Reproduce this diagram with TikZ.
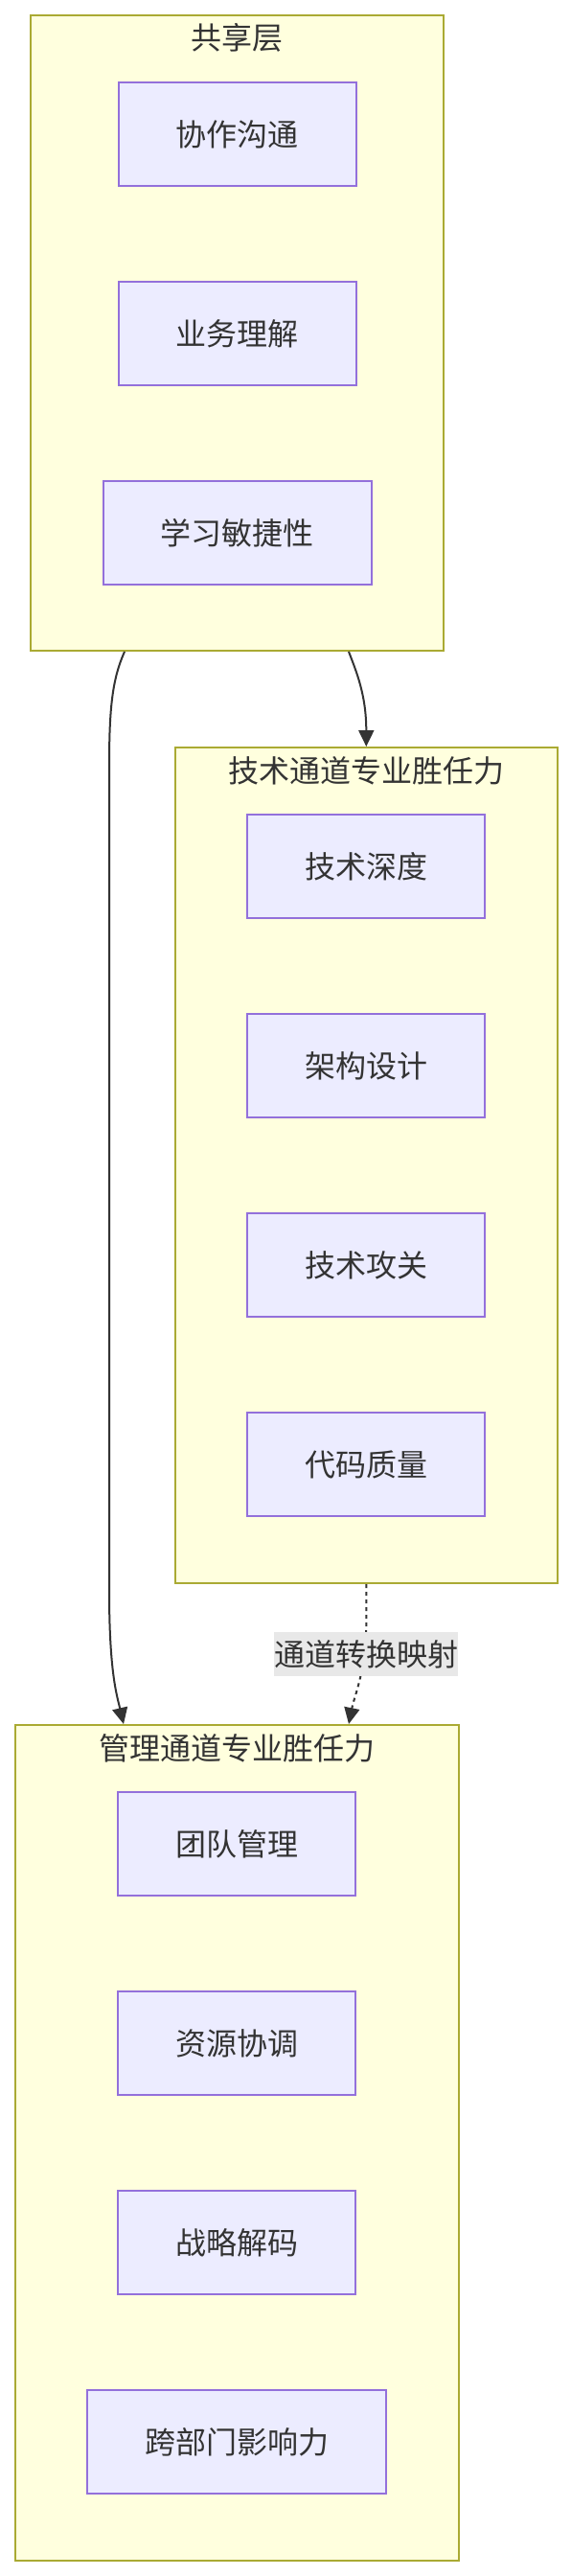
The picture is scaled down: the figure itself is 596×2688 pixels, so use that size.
\documentclass[tikz,border=0pt]{standalone}
\usepackage{fontspec}
\newfontfamily\cjk{Noto Sans CJK SC}
\usepackage{tikz}
\usetikzlibrary{arrows.meta, positioning, calc}

\definecolor{groupfill}{HTML}{FFFFDE}
\definecolor{groupline}{HTML}{AAAA33}
\definecolor{boxfill}{HTML}{ECECFF}
\definecolor{boxline}{HTML}{9370DB}
\definecolor{ink}{HTML}{333333}
\definecolor{labelfill}{HTML}{E8E8E8}

\begin{document}
\begin{tikzpicture}[x=1pt, y=-1pt, node distance=208pt,
        every node/.style={font=\cjk\fontsize{32}{38}\selectfont, text=ink, text height=26.5pt, text depth=2.3pt},
        group/.style={draw=groupline, fill=groupfill, line width=2pt, inner sep=0pt},
        skill/.style={draw=boxline, fill=boxfill, line width=2pt, inner xsep=60pt, inner ysep=0pt, minimum height=108pt},
        flow/.style={draw=ink, line width=2pt, -{Triangle[length=17pt, width=16pt]}}]
        \useasboundingbox (0,0) rectangle (596,2688);

        % subgraphs
        \node[group, minimum width=431pt, minimum height=663.4pt] (shared) at (247.5,347.3) {};
        \node[group, minimum width=399.3pt, minimum height=872pt] (tech) at (382.3,1216) {};
        \node[group, minimum width=463pt, minimum height=872pt] (mgmt) at (247,2236) {};

        \node (sharedtitle) at ($(shared.north)+(0,25)$) {共享层};
        \node (techtitle) at ($(tech.north)+(0,25)$) {技术通道专业胜任力};
        \node (mgmttitle) at ($(mgmt.north)+(0,25)$) {管理通道专业胜任力};

        \node[skill] (comm) at (247.5,140) {协作沟通};
        \node[skill] (biz) [below of=comm] {业务理解};
        \node[skill] (learn) [below of=biz] {学习敏捷性};

        \node[skill] (depth) at (382,904) {技术深度};
        \node[skill] (arch) [below of=depth] {架构设计};
        \node[skill] (tackle) [below of=arch] {技术攻关};
        \node[skill] (code) [below of=tackle] {代码质量};

        \node[skill] (team) at (247,1924) {团队管理};
        \node[skill] (res) [below of=team] {资源协调};
        \node[skill] (strat) [below of=res] {战略解码};
        \node[skill] (cross) [below of=strat] {跨部门影响力};

        % links between subgraphs
        \draw[flow] ($(shared.south)+(116.5,0)$) .. controls +(8,21) and +(0,-54) .. (tech.north);
        \draw[flow] ($(shared.south)+(-117.5,0)$) .. controls +(-13,29) and +(0,-60) .. (114,800)
                    -- (114,1660) .. controls +(0,85) and +(-7,-30) .. ($(mgmt.north)+(-118,0)$);
        \draw[flow, dash pattern=on 4pt off 4pt] (tech.south) -- ++(0,40)
                    .. controls +(0,50) and +(6,-30) .. ($(mgmt.north)+(117,0)$);
        \node[fill=labelfill, inner xsep=0pt, inner ysep=9pt] (maplabel) at ($(tech.south)+(0,73)$) {通道转换映射};
\end{tikzpicture}
\end{document}
